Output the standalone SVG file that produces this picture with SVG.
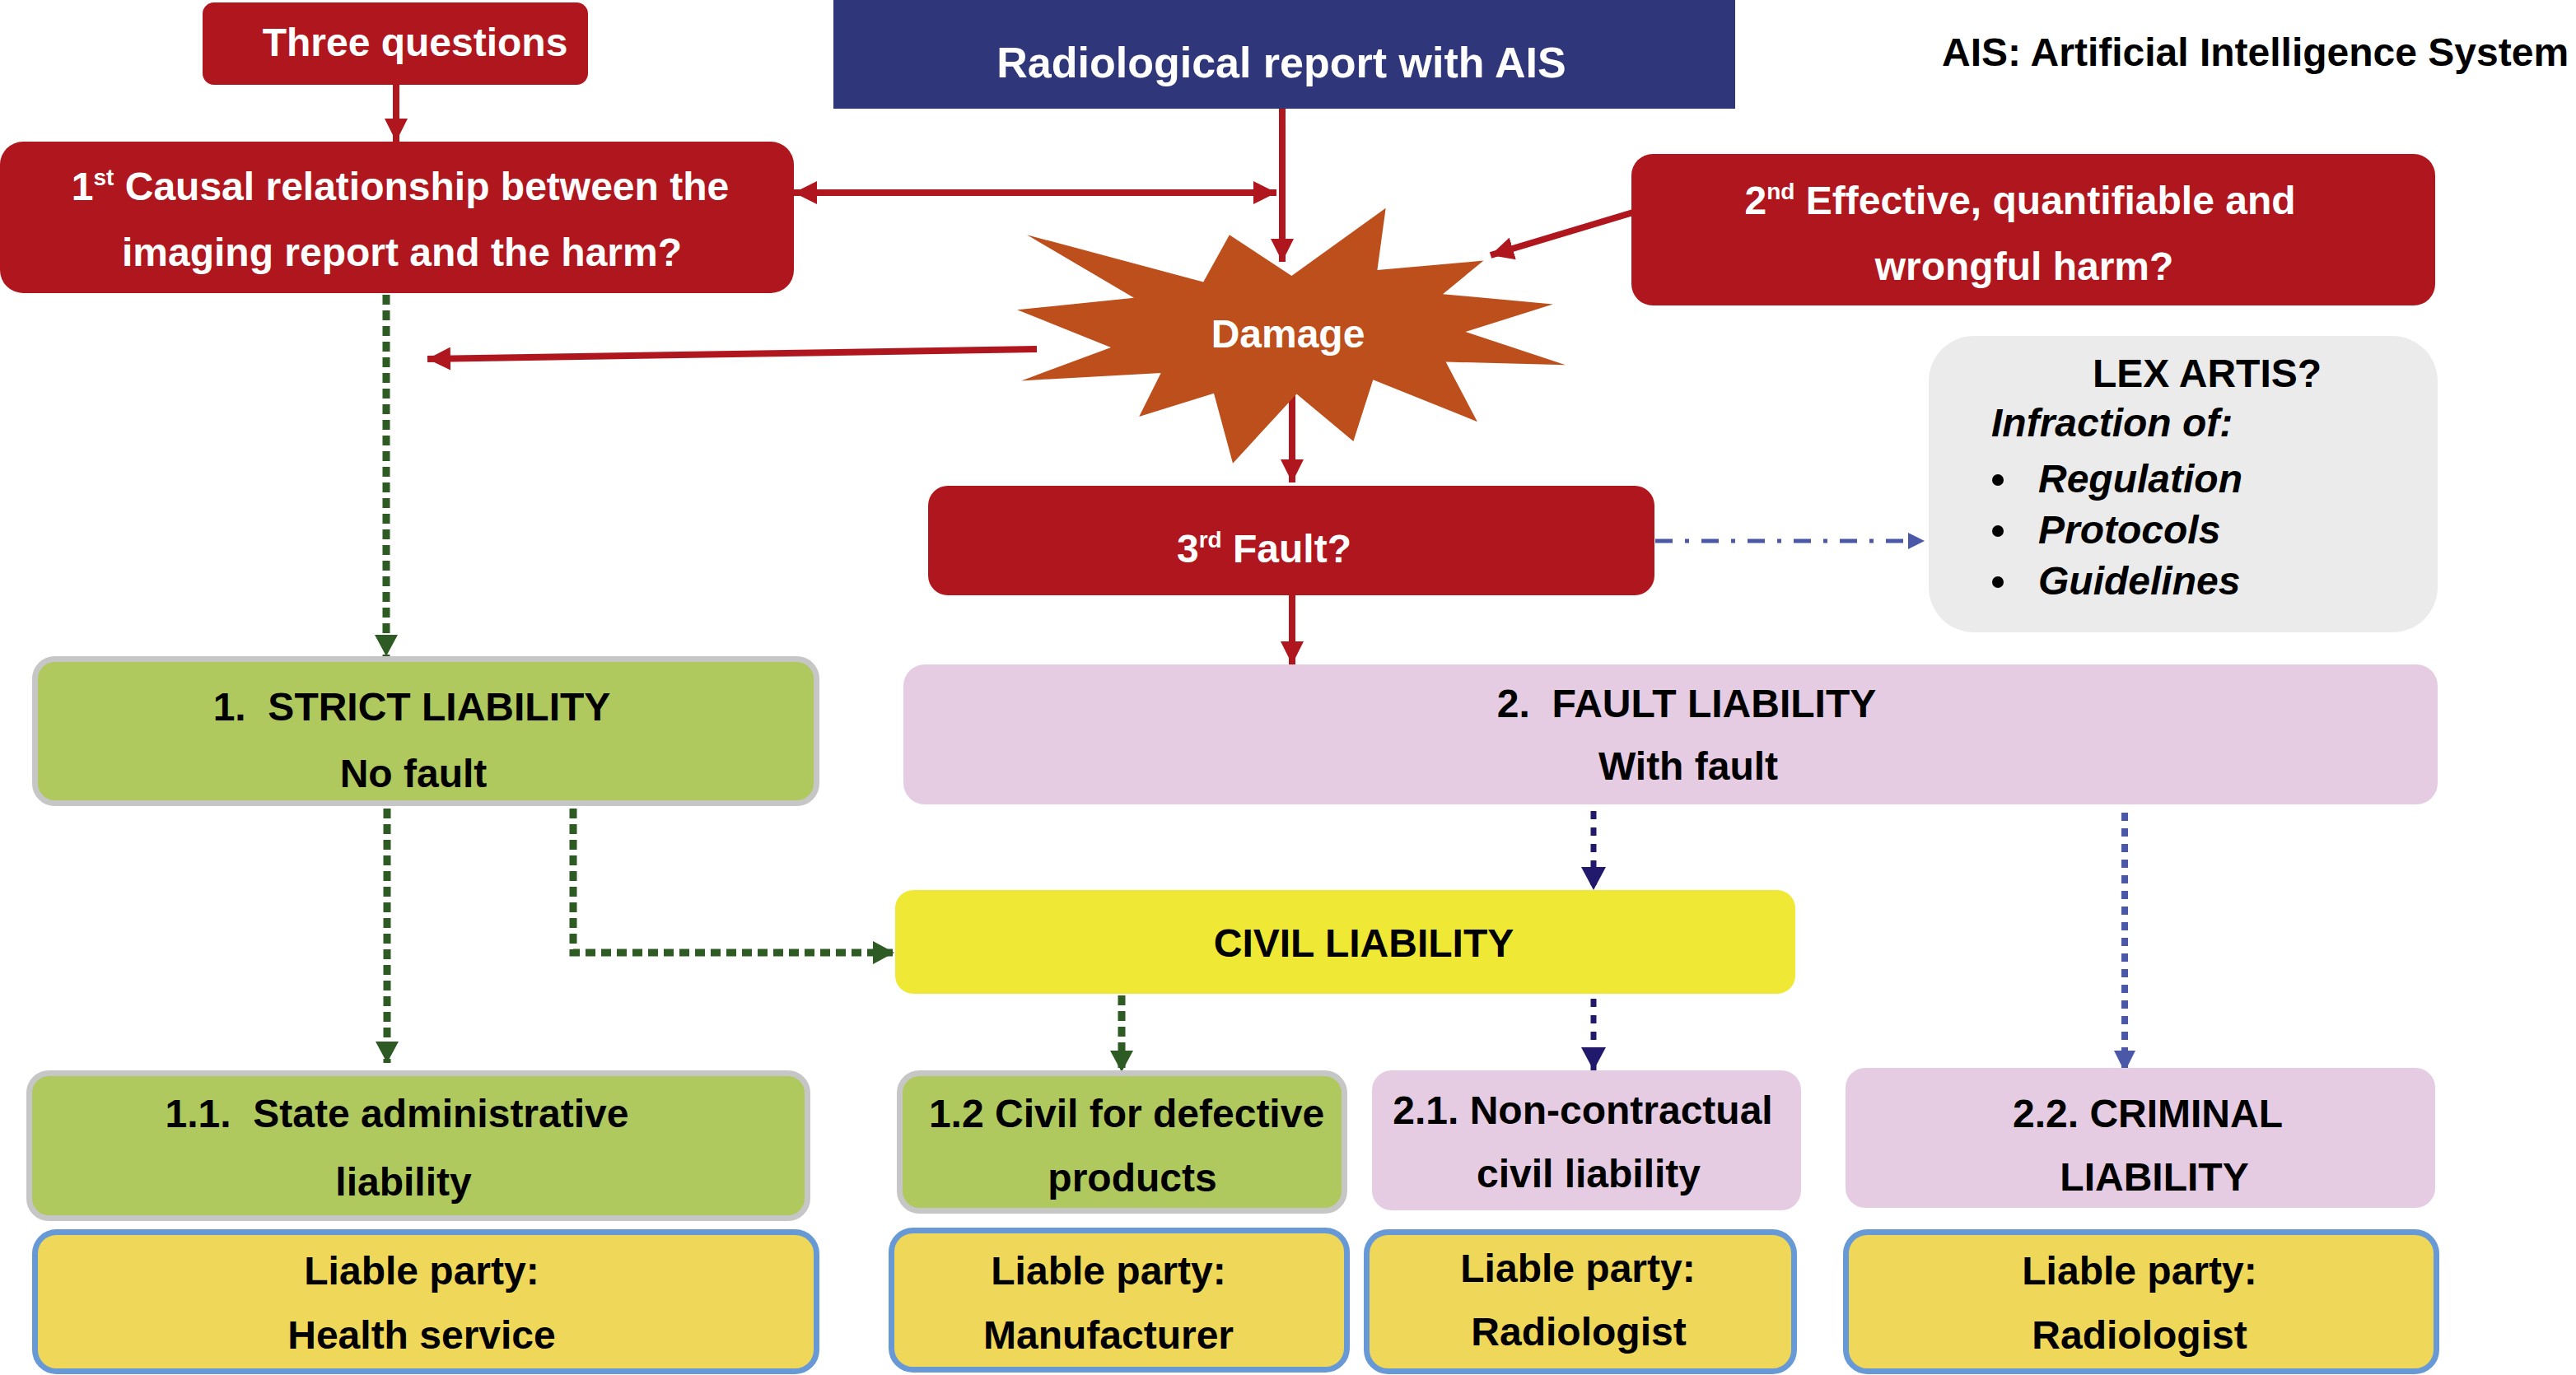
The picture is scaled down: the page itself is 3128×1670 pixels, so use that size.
<svg xmlns="http://www.w3.org/2000/svg" width="3128" height="1670" viewBox="0 0 3128 1670">
<defs>
<style>
.t{font-family:"Liberation Sans",Arial,Helvetica,sans-serif;font-weight:bold;font-size:48px;text-anchor:middle}
.w{fill:#ffffff}
.k{fill:#000000}
.red{fill:#B0161E}
.green{fill:#AFC95E;stroke:#C6C6C6;stroke-width:7}
.pink{fill:#E5CCE2}
.party{fill:#EFD75A;stroke:#6699D6;stroke-width:7}
.ra{stroke:#B0161E;stroke-width:8;fill:none}
.ga{stroke:#2E5A23;stroke-width:9;fill:none;stroke-dasharray:12 7}
.na{stroke:#211A6C;stroke-width:7;fill:none;stroke-dasharray:10 10}
.ba{stroke:#4B58A8;stroke-width:8;fill:none;stroke-dasharray:10 9}
.da{stroke:#4B58A8;stroke-width:5;fill:none;stroke-dasharray:21 15 5 15}
</style>
<marker id="mr" markerUnits="userSpaceOnUse" markerWidth="28" markerHeight="28" refX="28" refY="14" orient="auto-start-reverse"><path d="M0,0 L28,14 L0,28 z" fill="#B0161E"/></marker>
<marker id="mg" markerUnits="userSpaceOnUse" markerWidth="26" markerHeight="28" refX="26" refY="14" orient="auto"><path d="M0,0 L26,14 L0,28 z" fill="#2E5A23"/></marker>
<marker id="mn" markerUnits="userSpaceOnUse" markerWidth="28" markerHeight="30" refX="28" refY="15" orient="auto"><path d="M0,0 L28,15 L0,30 z" fill="#211A6C"/></marker>
<marker id="mb" markerUnits="userSpaceOnUse" markerWidth="26" markerHeight="26" refX="26" refY="13" orient="auto"><path d="M0,0 L26,13 L0,26 z" fill="#4B58A8"/></marker>
<marker id="md" markerUnits="userSpaceOnUse" markerWidth="20" markerHeight="20" refX="20" refY="10" orient="auto"><path d="M0,0 L20,10 L0,20 z" fill="#4B58A8"/></marker>
</defs>
<rect x="0" y="0" width="3128" height="1670" fill="#ffffff"/>

<g id="connectors">
<line class="ra" x1="481" y1="103" x2="481" y2="172" marker-end="url(#mr)"/>
<line class="ra" x1="1557" y1="132" x2="1557" y2="318" marker-end="url(#mr)"/>
<line class="ra" x1="964" y1="234" x2="1550" y2="234" marker-start="url(#mr)" marker-end="url(#mr)"/>
<line class="ra" x1="1983" y1="258" x2="1810" y2="310" marker-end="url(#mr)"/>
<line class="ra" x1="1259" y1="424" x2="519" y2="436" marker-end="url(#mr)"/>
<line class="ra" x1="1569" y1="470" x2="1569" y2="586" marker-end="url(#mr)"/>
<line class="ra" x1="1569" y1="723" x2="1569" y2="807" marker-end="url(#mr)"/>
<line class="da" x1="2010" y1="657" x2="2337" y2="657" marker-end="url(#md)"/>
<line class="ga" x1="469" y1="358" x2="469" y2="797" marker-end="url(#mg)"/>
<line class="ga" x1="470" y1="982" x2="470" y2="1291" marker-end="url(#mg)"/>
<polyline class="ga" points="696,982 696,1157 1086,1157" marker-end="url(#mg)"/>
<line class="ga" x1="1362" y1="1209" x2="1362" y2="1302" marker-end="url(#mg)"/>
<line class="na" x1="1935" y1="985" x2="1935" y2="1081" marker-end="url(#mn)"/>
<line class="na" x1="1935" y1="1213" x2="1935" y2="1300" marker-end="url(#mn)"/>
<line class="ba" x1="2580" y1="987" x2="2580" y2="1302" marker-end="url(#mb)"/>
</g>

<g id="three-questions">
<rect class="red" x="246" y="3" width="468" height="100" rx="14"/>
<text class="t w" x="504" y="68">Three questions</text>
</g>

<g id="radiological-report">
<rect x="1012" y="0" width="1095" height="132" fill="#2F3679"/>
<text class="t w" x="1556" y="94" style="font-size:52px">Radiological report with AIS</text>
</g>

<g id="legend">
<text class="t k" x="2358" y="80" style="text-anchor:start">AIS: Artificial Intelligence System</text>
</g>

<g id="q1">
<rect class="red" x="0" y="172" width="964" height="184" rx="28"/>
<text class="t w" x="486" y="243">1<tspan dy="-18" style="font-size:28px">st</tspan><tspan dy="18"> Causal relationship between the</tspan></text>
<text class="t w" x="488" y="323">imaging report and the harm?</text>
</g>

<g id="q2">
<rect class="red" x="1981" y="187" width="976" height="184" rx="26"/>
<text class="t w" x="2453" y="260">2<tspan dy="-18" style="font-size:28px">nd</tspan><tspan dy="18"> Effective, quantifiable and</tspan></text>
<text class="t w" x="2458" y="340">wrongful harm?</text>
</g>

<g id="damage">
<polygon fill="#BD4F1C" points="1682.7,252.7 1672.4,328.1 1801.5,316.6 1752,357.2 1885.7,369.4 1779.6,403.1 1901,443.3 1755.6,439.5 1793.9,512.2 1667.3,461.3 1643.4,535.9 1574.5,478.5 1497,562.7 1474,477.7 1383.2,506 1409.7,452.9 1240.3,462.4 1349,421.9 1235.2,376.3 1377,361.8 1247,285.2 1461.2,342.6 1492.9,285.2 1568.4,335"/>
<text class="t w" x="1564" y="422">Damage</text>
</g>

<g id="q3">
<rect class="red" x="1127" y="590" width="882" height="133" rx="24"/>
<text class="t w" x="1535" y="683">3<tspan dy="-18" style="font-size:28px">rd</tspan><tspan dy="18"> Fault?</tspan></text>
</g>

<g id="lex-artis">
<rect x="2342" y="408" width="618" height="360" rx="55" fill="#EBEBEB"/>
<text class="t k" x="2680" y="470">LEX ARTIS?</text>
<text class="t k" x="2418" y="530" style="text-anchor:start;font-style:italic">Infraction of:</text>
<circle cx="2426" cy="583" r="7" fill="#000"/>
<circle cx="2426" cy="645" r="7" fill="#000"/>
<circle cx="2426" cy="707" r="7" fill="#000"/>
<text class="t k" x="2475" y="598" style="text-anchor:start;font-style:italic">Regulation</text>
<text class="t k" x="2475" y="660" style="text-anchor:start;font-style:italic">Protocols</text>
<text class="t k" x="2475" y="722" style="text-anchor:start;font-style:italic">Guidelines</text>
</g>

<g id="strict-liability">
<rect class="green" x="42.5" y="800.5" width="949" height="175" rx="24"/>
<text class="t k" x="500" y="875" xml:space="preserve">1.  STRICT LIABILITY</text>
<text class="t k" x="502" y="956">No fault</text>
</g>

<g id="fault-liability">
<rect class="pink" x="1097" y="807" width="1863" height="170" rx="26"/>
<text class="t k" x="2048" y="871" xml:space="preserve">2.  FAULT LIABILITY</text>
<text class="t k" x="2050" y="947">With fault</text>
</g>

<g id="civil-liability">
<rect x="1087" y="1081" width="1093" height="126" rx="22" fill="#EFE935"/>
<text class="t k" x="1656" y="1162">CIVIL LIABILITY</text>
</g>

<g id="state-admin">
<rect class="green" x="35.5" y="1303.5" width="945" height="176" rx="24"/>
<text class="t k" x="482" y="1369" xml:space="preserve">1.1.  State administrative</text>
<text class="t k" x="490" y="1452">liability</text>
</g>

<g id="defective-products">
<rect class="green" x="1092.5" y="1303.5" width="540" height="167" rx="24"/>
<text class="t k" x="1368" y="1369">1.2 Civil for defective</text>
<text class="t k" x="1375" y="1447">products</text>
</g>

<g id="non-contractual">
<rect class="pink" x="1666" y="1300" width="521" height="170" rx="24"/>
<text class="t k" x="1922" y="1365">2.1. Non-contractual</text>
<text class="t k" x="1929" y="1442">civil liability</text>
</g>

<g id="criminal">
<rect class="pink" x="2241" y="1297" width="716" height="170" rx="24"/>
<text class="t k" x="2608" y="1369">2.2. CRIMINAL</text>
<text class="t k" x="2616" y="1446">LIABILITY</text>
</g>

<g id="party-health">
<rect class="party" x="42.5" y="1496.5" width="949" height="169" rx="26"/>
<text class="t k" x="512" y="1560">Liable party:</text>
<text class="t k" x="512" y="1638">Health service</text>
</g>

<g id="party-manufacturer">
<rect class="party" x="1082.5" y="1494.5" width="553" height="169" rx="26"/>
<text class="t k" x="1346" y="1560">Liable party:</text>
<text class="t k" x="1346" y="1638">Manufacturer</text>
</g>

<g id="party-radiologist-civil">
<rect class="party" x="1659.5" y="1496.5" width="519" height="169" rx="26"/>
<text class="t k" x="1916" y="1557">Liable party:</text>
<text class="t k" x="1917" y="1634">Radiologist</text>
</g>

<g id="party-radiologist-criminal">
<rect class="party" x="2241.5" y="1496.5" width="717" height="169" rx="26"/>
<text class="t k" x="2598" y="1560">Liable party:</text>
<text class="t k" x="2598" y="1638">Radiologist</text>
</g>
</svg>
